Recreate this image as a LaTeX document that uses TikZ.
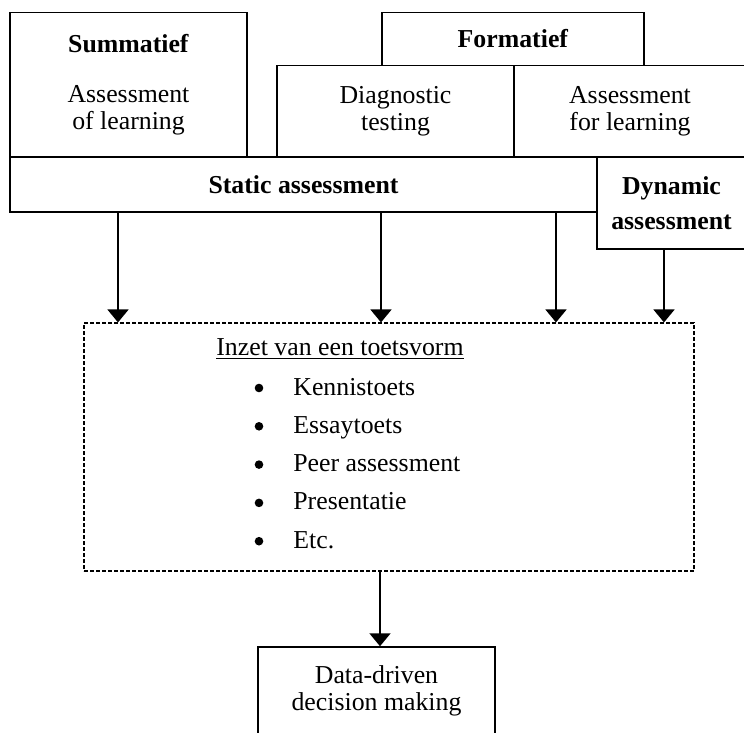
\documentclass[tikz,border=0pt]{standalone}
\usepackage{fontspec}
\setmainfont{Liberation Serif}
\usetikzlibrary{arrows.meta}

\tikzset{
  vak/.style={draw,line width=0.75pt,inner sep=0pt,align=center,
    font=\fontsize{12.9pt}{13.5pt}\selectfont},
  stippel/.style={draw,line width=0.6pt,dash pattern=on 2pt off 1pt,inner sep=0pt},
  pijl/.style={line width=1pt,-{Triangle[width=10.5pt,length=6.5pt]}},
  tekst/.style={inner sep=0pt,font=\fontsize{12.9pt}{13.5pt}\selectfont},
  bol/.style={circle,fill,inner sep=0pt,minimum size=4.3pt}
}

\begin{document}
\begin{tikzpicture}[x=0.5pt,y=-0.5pt]
    \useasboundingbox (0,0) rectangle (744,733);

    \node[vak,minimum width=118.5pt,minimum height=72.25pt] (som) at (128.5,84.75)
      {\textbf{Summatief}\\[11.5pt]Assessment\\of learning};
    \node[vak,minimum width=131pt,minimum height=26.5pt] (form) at (513,39) {\textbf{Formatief}};
    \node[vak,minimum width=118.5pt,minimum height=45.75pt] (diag) at (395.5,111.25)
      {Diagnostic\\testing};
    \node[vak,minimum width=116pt,minimum height=45.75pt] (afl) at (630,111.25)
      {Assessment\\for learning};
    \node[vak,minimum width=293.5pt,minimum height=27.5pt] (static) at (303.5,184.5)
      {\textbf{Static assessment}};
    \node[vak,minimum width=74.5pt,minimum height=46pt] (dyn) at (671.5,203)
      {\textbf{Dynamic}\\[4pt]\textbf{assessment}};

    \node[stippel,minimum width=305pt,minimum height=124pt] (inzet) at (389,447) {};
    \node[tekst,anchor=base west] (kop) at (216,355) {\underline{Inzet van een toetsvorm}};
    \foreach \item [count=\i] in {Kennistoets,Essaytoets,Peer assessment,Presentatie,Etc.} {
      \node[bol] (bol\i) at (259,{388+38.3*(\i-1)}) {};
      \node[tekst,anchor=base west] (item\i) at (293,{395+38.3*(\i-1)}) {\item};
    };

    \node[vak,minimum width=118.5pt,minimum height=44pt] (data) at (376.5,691)
      {Data-driven\\decision making};

    \coordinate (p1) at (118,0);
    \coordinate (p2) at (381,0);
    \coordinate (p3) at (556,0);
    \coordinate (p4) at (664,0);
    \coordinate (p5) at (380,0);
    \foreach \p in {p1,p2,p3}
      \draw[pijl] (static.south -| \p) -- (inzet.north -| \p);
    \draw[pijl] (dyn.south -| p4) -- (inzet.north -| p4);
    \draw[pijl] (inzet.south -| p5) -- (data.north -| p5);
\end{tikzpicture}
\end{document}
